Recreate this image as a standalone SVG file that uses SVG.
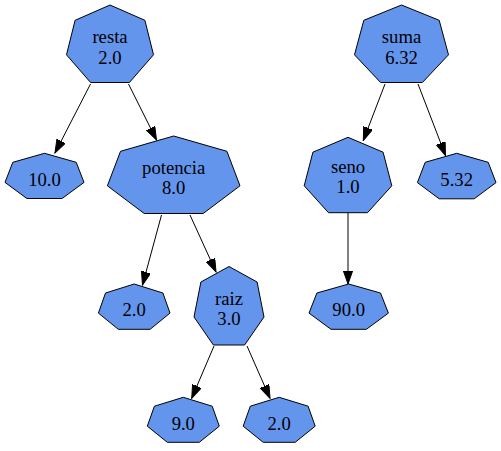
<svg xmlns="http://www.w3.org/2000/svg" width="501" height="451" viewBox="0 0 501 451">
  <style>
    .node polygon { fill: #6495ed; stroke: #000000; stroke-width: 1; }
    .node text { font-family: "Liberation Serif", "Times New Roman", serif; font-size: 18.67px; fill: #000000; text-anchor: middle; }
    .edge { stroke: #000000; stroke-width: 1; fill: none; marker-end: url(#arrow); }
  </style>
  <defs>
    <marker id="arrow" markerUnits="userSpaceOnUse" markerWidth="14" markerHeight="10" refX="13.3" refY="4.7" orient="auto">
      <path d="M0,0 L13.3,4.7 L0,9.4 z" fill="#000000" stroke="#000000" stroke-width="1"/>
    </marker>
  </defs>
  <rect x="0" y="0" width="501" height="451" fill="#ffffff"/>

  <!-- connectors -->
  <g id="edges">
    <line class="edge" x1="90.5" y1="84" x2="55" y2="153"/>
    <line class="edge" x1="128.5" y1="84" x2="156.5" y2="140"/>
    <line class="edge" x1="161.5" y1="215" x2="142.5" y2="285"/>
    <line class="edge" x1="190" y1="215" x2="216" y2="272"/>
    <line class="edge" x1="214" y1="346" x2="191.7" y2="398.3"/>
    <line class="edge" x1="247" y1="346" x2="270" y2="398.3"/>
    <line class="edge" x1="385" y1="84" x2="363.3" y2="140.5"/>
    <line class="edge" x1="418" y1="84" x2="445.5" y2="155.5"/>
    <line class="edge" x1="348" y1="213" x2="348" y2="284"/>
  </g>

  <!-- nodes -->
  <g id="resta" class="node">
    <polygon points="110,5 144.9,20.3 153.5,54.8 129.4,82.5 90.6,82.5 66.5,54.8 75.1,20.3"/>
    <text x="110" y="43.3">resta</text>
    <text x="110" y="63.5">2.0</text>
  </g>
  <g id="suma" class="node">
    <polygon points="401.5,5 439.2,20.3 448.5,54.8 422.4,82.5 380.6,82.5 354.5,54.8 363.8,20.3"/>
    <text x="401.5" y="43.3">suma</text>
    <text x="401.5" y="64">6.32</text>
  </g>
  <g id="n10" class="node">
    <polygon points="44.5,153.3 76.2,162.3 84,182.4 62.1,198.5 26.9,198.5 5,182.4 12.8,162.3"/>
    <text x="44.5" y="185.5">10.0</text>
  </g>
  <g id="potencia" class="node">
    <polygon points="173.7,136 226.9,151.3 240,185.8 203.2,213.5 144.2,213.5 107.4,185.8 120.5,151.3"/>
    <text x="173.7" y="174">potencia</text>
    <text x="173.7" y="194">8.0</text>
  </g>
  <g id="seno" class="node">
    <polygon points="348,137.3 383.1,152.2 391.8,185.8 367.5,212.7 328.5,212.7 304.2,185.8 312.9,152.2"/>
    <text x="348" y="173.3">seno</text>
    <text x="348" y="193.3">1.0</text>
  </g>
  <g id="n532" class="node">
    <polygon points="456.7,153.3 488.2,162.3 496,182.6 474.2,198.8 439.2,198.8 417.4,182.6 425.2,162.3"/>
    <text x="456.7" y="185.5">5.32</text>
  </g>
  <g id="n2a" class="node">
    <polygon points="134.2,284 162.9,293 170,313.1 150.1,329.3 118.3,329.3 98.4,313.1 105.5,293"/>
    <text x="134.2" y="315.5">2.0</text>
  </g>
  <g id="raiz" class="node">
    <polygon points="229,266.5 257.1,282 264,317 244.6,345 213.4,345 194,317 200.9,282"/>
    <text x="229" y="305">raiz</text>
    <text x="229" y="325">3.0</text>
  </g>
  <g id="n90" class="node">
    <polygon points="348.7,284 380.5,293 388.4,313.1 366.4,329.3 331,329.3 309,313.1 316.9,293"/>
    <text x="348.7" y="315.5">90.0</text>
  </g>
  <g id="n9" class="node">
    <polygon points="183.3,397.3 212.2,406.2 219.3,426.2 199.3,442.3 167.3,442.3 147.3,426.2 154.4,406.2"/>
    <text x="183.3" y="430">9.0</text>
  </g>
  <g id="n2b" class="node">
    <polygon points="279.2,397.3 308.1,406.2 315.2,426.2 295.2,442.3 263.2,442.3 243.2,426.2 250.3,406.2"/>
    <text x="279.2" y="430">2.0</text>
  </g>
</svg>
